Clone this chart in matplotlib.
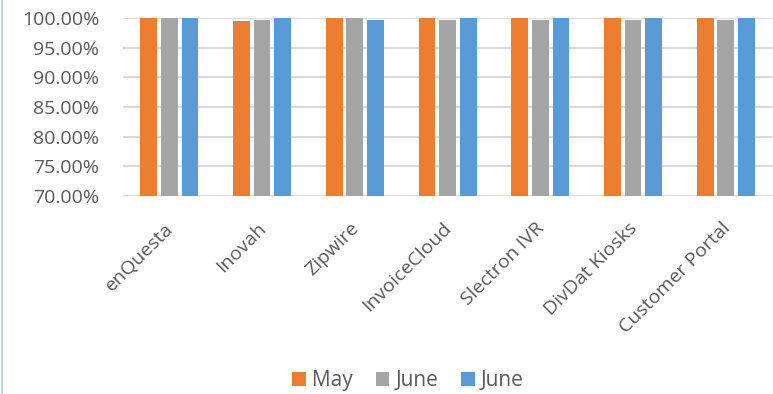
import numpy as np
import matplotlib.pyplot as plt
from matplotlib.lines import Line2D
from matplotlib.ticker import FuncFormatter
from matplotlib.transforms import ScaledTranslation

categories = ["enQuesta", "Inovah", "Zipwire", "InvoiceCloud",
              "Slectron IVR", "DivDat Kiosks", "Customer Portal"]
may = [1.000, 0.9950, 1.000, 1.000, 1.000, 1.000, 1.000]
june_a = [1.000, 0.9966, 1.000, 0.9966, 0.9966, 0.9966, 0.9960]
june_b = [1.000, 1.000, 0.9966, 1.000, 1.000, 1.000, 1.000]
series_names = ["May", "June", "June"]
colors = ["#ed7d31", "#a5a5a5", "#5b9bd5"]

plt.rcParams['font.family'] = ['Open Sans', 'DejaVu Sans']
text_col = '#595959'

fig = plt.figure(figsize=(7.73, 3.94), dpi=100)
ax = fig.add_axes([0.159, 0.503, 0.840, 0.451])

# three bars per category, offset around the tick
x = np.arange(len(categories))
width = 0.18
step = 0.222
for i, (vals, name, c) in enumerate(zip([may, june_a, june_b], series_names, colors)):
    ax.bar(x + (i - 1) * step, np.array(vals) - 0.70, width, bottom=0.70,
           color=c, label=name, zorder=3)

ax.set_ylim(0.70, 1.00)
ax.set_xlim(-0.5, len(categories) - 0.5)
ax.set_yticks(np.arange(0.70, 1.001, 0.05))
ax.yaxis.set_major_formatter(FuncFormatter(lambda v, p: f"{v*100:.2f}%"))
ax.grid(axis='y', color='#d9d9d9', linewidth=1.5, zorder=0)
for s in ax.spines.values():
    s.set_visible(False)
ax.tick_params(axis='both', length=0, colors=text_col, labelsize=14)
ax.tick_params(axis='y', pad=17)
ax.tick_params(axis='x', pad=17)
ax.set_xticks(x)
ax.set_xticklabels(categories, rotation=45, ha='right', rotation_mode='anchor')
shift = ScaledTranslation(-0.05, 0.0, fig.dpi_scale_trans)
for lbl in ax.get_xticklabels():
    lbl.set_transform(lbl.get_transform() + shift)

fig.legend(loc='lower center', bbox_to_anchor=(0.528, -0.04), ncol=3, frameon=False,
           fontsize=15, handlelength=0.65, handleheight=0.65, handletextpad=0.3,
           columnspacing=1.1, labelcolor=text_col)

# thin light-blue border on the left edge
fig.add_artist(Line2D([0.002, 0.002], [0, 1], transform=fig.transFigure,
                      color='#bdd7ee', linewidth=1.5))

fig.savefig("out.png", dpi=100)
